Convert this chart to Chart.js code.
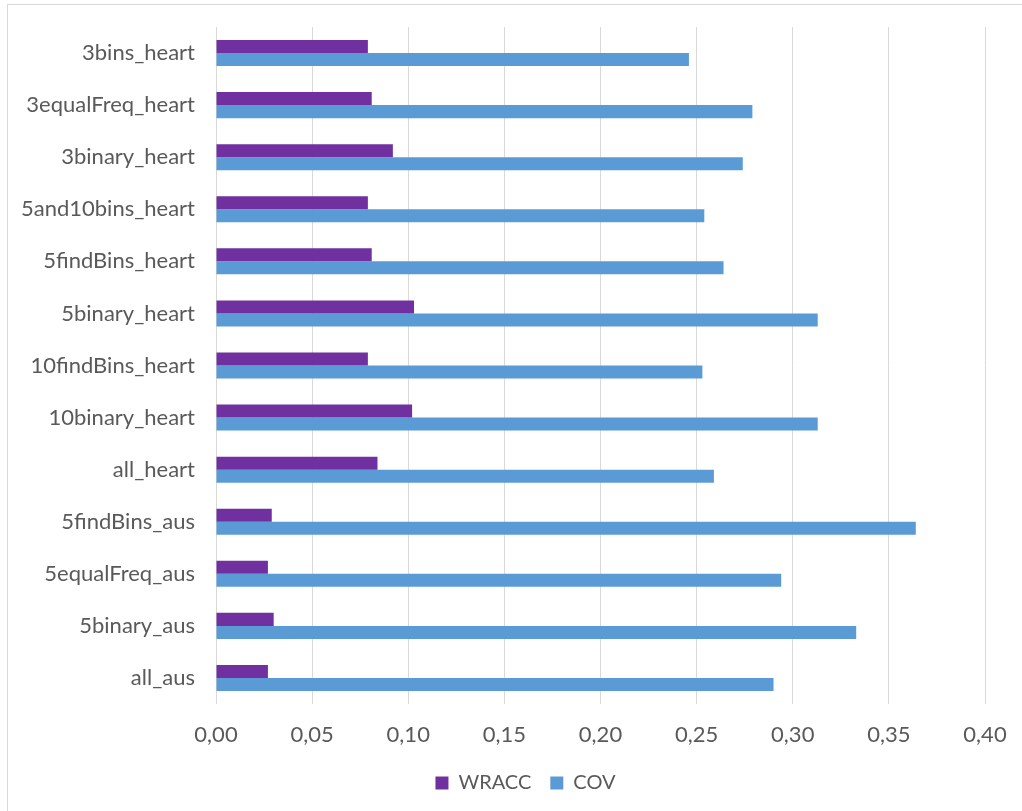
<!DOCTYPE html>
<html>
<head>
<meta charset="utf-8">
<script src="https://cdn.jsdelivr.net/npm/chart.js@4"></script>
<style>
  html, body { margin: 0; padding: 0; background: #fff; }
  #wrap { position: relative; width: 1022px; height: 811px; overflow: hidden; }
  #frame { position: absolute; left: 7px; top: 4px; width: 1030px; height: 820px; border: 1px solid #d9d9d9; box-sizing: border-box; }
  canvas { position: absolute; left: 0; top: 0; }
</style>
</head>
<body>
<div id="wrap">
  <div id="frame"></div>
  <canvas id="chart" width="1022" height="811"></canvas>
</div>
<script>
const categories = [
  '3bins_heart', '3equalFreq_heart', '3binary_heart', '5and10bins_heart',
  '5findBins_heart', '5binary_heart', '10findBins_heart', '10binary_heart',
  'all_heart', '5findBins_aus', '5equalFreq_aus', '5binary_aus', 'all_aus'
];
const wracc = [0.079, 0.081, 0.092, 0.079, 0.081, 0.103, 0.079, 0.102, 0.084, 0.029, 0.027, 0.030, 0.027];
const cov   = [0.246, 0.279, 0.274, 0.254, 0.264, 0.313, 0.253, 0.313, 0.259, 0.364, 0.294, 0.333, 0.290];
const xTicks = [0, 0.05, 0.10, 0.15, 0.20, 0.25, 0.30, 0.35, 0.40];

const grey = '#595959';
const family = 'Lato, "Open Sans", sans-serif';

// legend sits centred under the plot area in the original, not under the whole canvas
const shiftLegend = {
  id: 'shiftLegend',
  afterLayout(chart) {
    chart.legend.left += 28;
    chart.legend.right += 28;
  }
};

const ctx = document.getElementById('chart').getContext('2d');
new Chart(ctx, {
  type: 'bar',
  data: {
    labels: categories,
    datasets: [
      {
        label: 'WRACC',
        data: wracc,
        backgroundColor: '#7030A0',
        borderWidth: 0,
        barPercentage: 1.0,
        categoryPercentage: 0.5,
      },
      {
        label: 'COV',
        data: cov,
        backgroundColor: '#5B9BD5',
        borderWidth: 0,
        barPercentage: 1.0,
        categoryPercentage: 0.5,
      }
    ]
  },
  plugins: [shiftLegend],
  options: {
    indexAxis: 'y',
    responsive: false,
    animation: false,
    layout: { padding: { left: 10, right: 37, top: 27, bottom: 8 } },
    scales: {
      x: {
        type: 'linear',
        min: 0, max: 0.4,
        afterBuildTicks: axis => { axis.ticks = xTicks.map(v => ({ value: v })); },
        afterFit: axis => { axis.height = 50; axis.paddingLeft = 0; axis.paddingRight = 0; },
        ticks: {
          color: grey,
          font: { family: family, size: 22 },
          padding: 18,
          callback: v => v.toFixed(2).replace('.', ',')
        },
        grid: { color: '#d9d9d9', lineWidth: 1, drawTicks: false },
        border: { display: false }
      },
      y: {
        afterFit: axis => { axis.width = 206; axis.paddingTop = 0; axis.paddingBottom = 0; },
        ticks: { color: grey, font: { family: family, size: 22 }, padding: 21 },
        grid: { display: false, drawTicks: false },
        border: { display: false }
      }
    },
    plugins: {
      tooltip: { enabled: false },
      legend: {
        position: 'bottom',
        labels: {
          color: grey,
          font: { family: family, size: 20 },
          boxWidth: 13,
          boxHeight: 13,
          padding: 19
        }
      }
    }
  }
});
</script>
</body>
</html>
